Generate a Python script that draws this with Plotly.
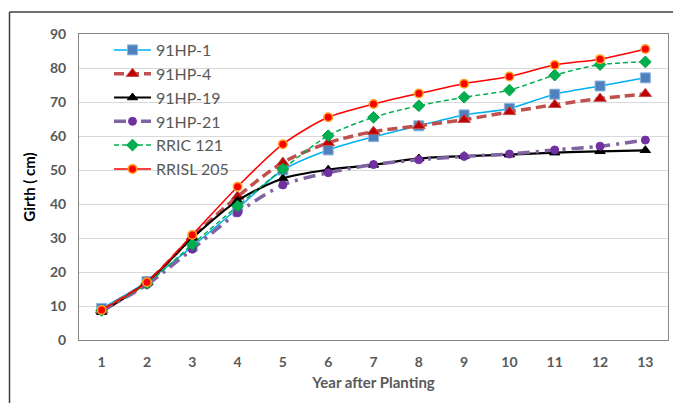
import plotly.graph_objects as go

years = list(range(1, 14))
year_labels = [str(y) for y in years]

hp1 = [9.3, 17.2, 27.5, 38.7, 50.0, 55.9, 59.8, 63.0, 66.2, 68.1, 72.3, 74.7, 77.1]
hp4 = [8.8, 17.0, 30.3, 42.2, 52.2, 58.0, 61.3, 63.0, 64.8, 67.1, 69.2, 71.0, 72.4]
hp19 = [8.2, 17.0, 30.0, 41.0, 47.5, 50.1, 51.5, 53.4, 54.1, 54.5, 55.1, 55.5, 55.8]
hp21 = [8.6, 16.3, 26.7, 37.4, 45.6, 49.2, 51.6, 53.0, 54.0, 54.7, 55.9, 57.0, 58.8]
rric121 = [8.7, 16.6, 28.1, 39.4, 50.3, 60.1, 65.5, 68.9, 71.4, 73.5, 77.9, 81.0, 81.8]
rrisl205 = [8.8, 17.0, 30.9, 45.1, 57.6, 65.5, 69.4, 72.5, 75.4, 77.5, 80.9, 82.6, 85.6]

series = [
    ("91HP-1", hp1, dict(color="#00B0F0", width=1.5, dash="solid"),
     dict(symbol="square", size=10, color="#4F81BD", line=dict(color="#8EB4E3", width=1))),
    ("91HP-4", hp4, dict(color="#C0504D", width=3.5, dash="10px,5px"),
     dict(symbol="triangle-up", size=11, color="#C00000", line=dict(color="#C0504D", width=1))),
    ("91HP-19", hp19, dict(color="#000000", width=2.2, dash="solid"),
     dict(symbol="triangle-up", size=9, color="#000000", line=dict(color="#000000", width=1))),
    ("91HP-21", hp21, dict(color="#8064A2", width=3.5, dash="12px,6px,3px,6px"),
     dict(symbol="circle", size=8, color="#7030A0", line=dict(color="#7030A0", width=1))),
    ("RRIC 121", rric121, dict(color="#00B050", width=1.5, dash="5px,3px"),
     dict(symbol="diamond", size=9, color="#00B050", line=dict(color="#00A040", width=1))),
    ("RRISL 205", rrisl205, dict(color="#FF0000", width=1.5, dash="solid"),
     dict(symbol="circle", size=8.5, color="#FF0000", line=dict(color="#FFA020", width=1.5))),
]

fig = go.Figure()
for i, (name, vals, ln, mk) in enumerate(series):
    fig.add_trace(go.Scatter(
        x=year_labels, y=vals, name=name, mode="lines+markers",
        line=dict(shape="spline", smoothing=0.8, **ln), marker=mk,
        legendgroup=f"g{i}",
    ))

FONT = "Lato, 'Open Sans', sans-serif"
L, R, T, B = 79, 5, 34, 63
W, H = 673, 403
pw, ph = W - L - R, H - T - B

def px_x(px):
    return (px - L) / pw

def px_y(py):
    return (H - B - py) / ph

fig.update_layout(
    width=W, height=H,
    margin=dict(l=L, r=R, t=T, b=B),
    paper_bgcolor="white", plot_bgcolor="white",
    font=dict(family=FONT, color="#595959"),
    showlegend=True,
    legend=dict(
        x=px_x(109), y=px_y(33), xanchor="left", yanchor="top",
        bgcolor="rgba(0,0,0,0)", traceorder="grouped", tracegroupgap=0,
        font=dict(size=16, color="#595959", family=FONT),
        itemwidth=37,
    ),
    xaxis=dict(
        type="category", range=[-0.5, 12.5],
        showgrid=False, showline=True, linecolor="#868686", linewidth=1, mirror=True,
        ticks="", ticklabelstandoff=9,
        tickfont=dict(size=14, color="#595959", family=FONT, weight="bold"),
        title=dict(text="Year after Planting", standoff=8,
                   font=dict(size=15, color="#595959", family=FONT, weight="bold")),
    ),
    yaxis=dict(
        range=[0, 90], dtick=10, showgrid=True, gridcolor="#D9D9D9", gridwidth=1,
        showline=True, linecolor="#868686", linewidth=1, mirror=True,
        zeroline=False, ticks="", ticklabelstandoff=9,
        tickfont=dict(size=14, color="#595959", family=FONT, weight="bold"),
        title=dict(text="Girth ( cm)", standoff=10,
                   font=dict(size=15, color="#000000", family=FONT, weight="bold")),
    ),
    shapes=[
        dict(type="line", xref="paper", yref="paper",
             x0=px_x(9.5), x1=px_x(9.5), y0=px_y(12), y1=px_y(405),
             line=dict(color="#404040", width=1.5)),
        dict(type="line", xref="paper", yref="paper",
             x0=px_x(9.5), x1=px_x(675), y0=px_y(12), y1=px_y(12),
             line=dict(color="#404040", width=1.5)),
    ],
)

fig.write_html("out.html")
